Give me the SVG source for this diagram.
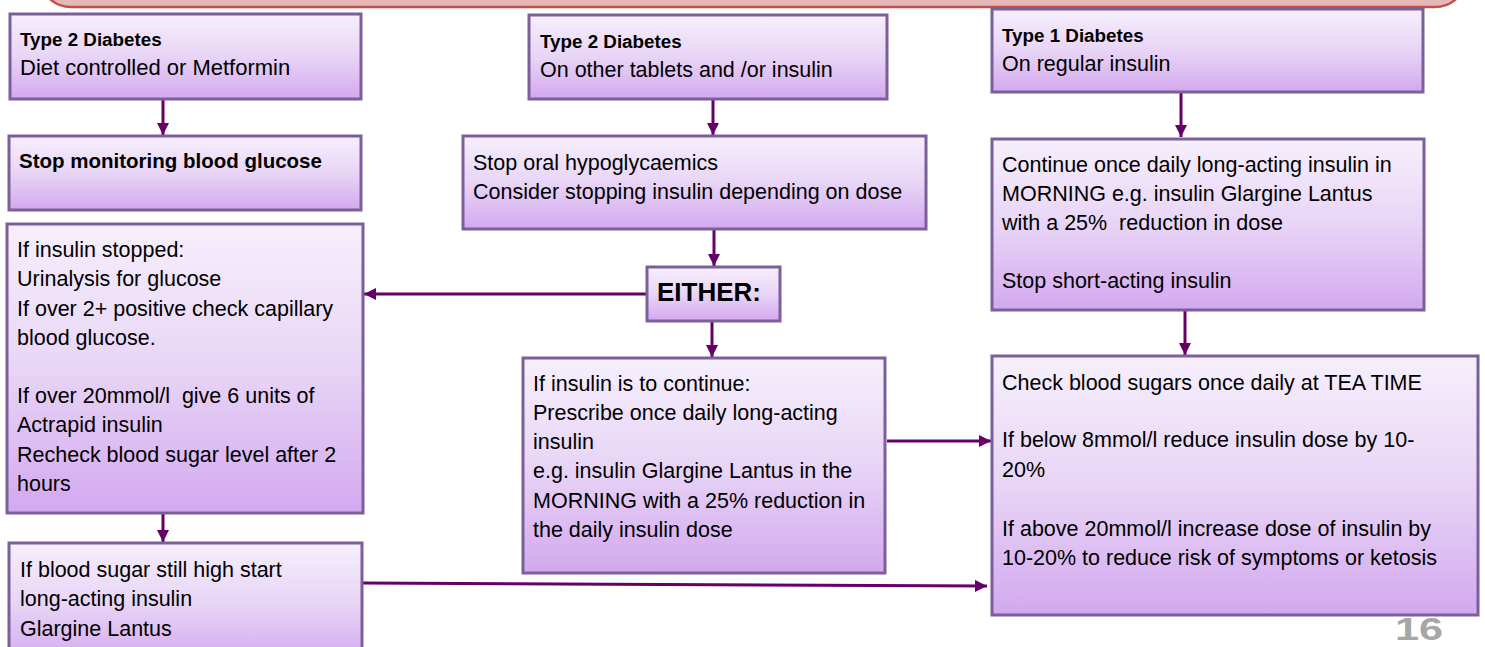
<svg xmlns="http://www.w3.org/2000/svg" width="1485" height="647" viewBox="0 0 1485 647">
<defs>
<linearGradient id="boxg" x1="0" y1="0" x2="0" y2="1">
<stop offset="0" stop-color="#f6effc"/>
<stop offset="0.5" stop-color="#e8d5f6"/>
<stop offset="1" stop-color="#d3a8ef"/>
</linearGradient>
<marker id="ah" markerUnits="userSpaceOnUse" markerWidth="12" markerHeight="12" viewBox="0 0 12 12" refX="12" refY="6" orient="auto">
<path d="M0,0 L12,6 L0,12 Z" fill="#660066"/>
</marker>
<style>
.box{fill:url(#boxg);stroke:#7a5f99;stroke-width:3}
text{white-space:pre}
.t{font-family:"Liberation Sans",Arial,sans-serif;font-size:21.5px;fill:#000}
.b{font-family:"Liberation Sans",Arial,sans-serif;font-size:18.8px;font-weight:bold;fill:#000}
.c{fill:none;stroke:#660066;stroke-width:3}
</style>
</defs>
<rect width="1485" height="647" fill="#ffffff"/>
<g id="banner">
<rect x="43" y="-40" width="1420" height="47" rx="28" ry="28" fill="#e6b9b8" stroke="#c0504d" stroke-width="2.5"/>
</g>
<g id="connectors">
<line class="c" x1="163" y1="100" x2="163" y2="135" marker-end="url(#ah)"/>
<line class="c" x1="713" y1="99" x2="713" y2="135" marker-end="url(#ah)"/>
<line class="c" x1="714" y1="229" x2="714" y2="266" marker-end="url(#ah)"/>
<line class="c" x1="1181" y1="92" x2="1181" y2="137" marker-end="url(#ah)"/>
<line class="c" x1="712" y1="321" x2="712" y2="357" marker-end="url(#ah)"/>
<line class="c" x1="1185" y1="310" x2="1185" y2="355" marker-end="url(#ah)"/>
<line class="c" x1="163" y1="513" x2="163" y2="542" marker-end="url(#ah)"/>
<line class="c" x1="647" y1="294" x2="364" y2="294" marker-end="url(#ah)"/>
<line class="c" x1="887" y1="441" x2="991" y2="441" marker-end="url(#ah)"/>
<line class="c" x1="362" y1="583" x2="987" y2="586" marker-end="url(#ah)"/>
</g>
<g id="t2-diet">
<rect class="box" x="10" y="14" width="351" height="85"/>
<text class="b" x="20" y="46">Type 2 Diabetes</text>
<text class="t" x="20" y="75" style="font-size:22px">Diet controlled or Metformin</text>
</g>
<g id="stop-monitoring">
<rect class="box" x="9" y="136" width="352" height="74"/>
<text class="b" x="19" y="168" style="font-size:20.5px">Stop monitoring blood glucose</text>
</g>
<g id="t2-tablets">
<rect class="box" x="529" y="15" width="358" height="84"/>
<text class="b" x="540" y="48">Type 2 Diabetes</text>
<text class="t" x="540" y="77">On other tablets and /or insulin</text>
</g>
<g id="stop-oral">
<rect class="box" x="463" y="136" width="463" height="93"/>
<text class="t" x="473" y="170">Stop oral hypoglycaemics</text>
<text class="t" x="473" y="199">Consider stopping insulin depending on dose</text>
</g>
<g id="either">
<rect class="box" x="647" y="267" width="133" height="54"/>
<text x="657" y="301" style="font-family:'Liberation Sans',Arial,sans-serif;font-size:26px;font-weight:bold">EITHER:</text>
</g>
<g id="insulin-stopped">
<rect class="box" x="7" y="224" width="356" height="289"/>
<text class="t" x="17" y="257">If insulin stopped:</text>
<text class="t" x="17" y="286">Urinalysis for glucose</text>
<text class="t" x="17" y="316">If over 2+ positive check capillary</text>
<text class="t" x="17" y="345">blood glucose.</text>
<text class="t" x="17" y="403">If over 20mmol/l  give 6 units of</text>
<text class="t" x="17" y="432">Actrapid insulin</text>
<text class="t" x="17" y="462">Recheck blood sugar level after 2</text>
<text class="t" x="17" y="491">hours</text>
</g>
<g id="still-high">
<rect class="box" x="9" y="543" width="353" height="120"/>
<text class="t" x="20" y="577">If blood sugar still high start</text>
<text class="t" x="20" y="606">long-acting insulin</text>
<text class="t" x="20" y="636">Glargine Lantus</text>
</g>
<g id="insulin-continue">
<rect class="box" x="523" y="358" width="362" height="215"/>
<text class="t" x="533" y="391">If insulin is to continue:</text>
<text class="t" x="533" y="420">Prescribe once daily long-acting</text>
<text class="t" x="533" y="449">insulin</text>
<text class="t" x="533" y="478">e.g. insulin Glargine Lantus in the</text>
<text class="t" x="533" y="508">MORNING with a 25% reduction in</text>
<text class="t" x="533" y="537">the daily insulin dose</text>
</g>
<g id="t1">
<rect class="box" x="992" y="9" width="431" height="83"/>
<text class="b" x="1002" y="42">Type 1 Diabetes</text>
<text class="t" x="1002" y="71">On regular insulin</text>
</g>
<g id="continue-once">
<rect class="box" x="992" y="139" width="432" height="171"/>
<text class="t" x="1002" y="172">Continue once daily long-acting insulin in</text>
<text class="t" x="1002" y="201">MORNING e.g. insulin Glargine Lantus</text>
<text class="t" x="1002" y="230">with a 25%  reduction in dose</text>
<text class="t" x="1002" y="288">Stop short-acting insulin</text>
</g>
<g id="check-blood">
<rect class="box" x="992" y="356" width="486" height="259"/>
<text class="t" x="1002" y="390">Check blood sugars once daily at TEA TIME</text>
<text class="t" x="1002" y="447">If below 8mmol/l reduce insulin dose by 10-</text>
<text class="t" x="1002" y="477">20%</text>
<text class="t" x="1002" y="536">If above 20mmol/l increase dose of insulin by</text>
<text class="t" x="1002" y="565">10-20% to reduce risk of symptoms or ketosis</text>
</g>
<g id="page-number">
<text transform="translate(1443,640) scale(1.35,1)" x="0" y="0" text-anchor="end" style="font-family:'Liberation Sans',Arial,sans-serif;font-size:32px;font-weight:bold;fill:#a6a6a6">16</text>
</g>
</svg>
